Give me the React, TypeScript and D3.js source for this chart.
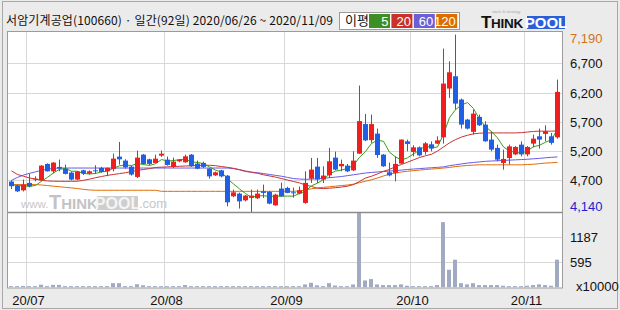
import React from 'react';
import * as d3 from 'd3';

const title = '서암기계공업(100660) · 일간(92일) 2020/06/26 ~ 2020/11/09';
const maLabel = '이평';
const maPeriods = ['5', '20', '60', '120'];

const opens = [4680,4610,4529,4656,4720,4700,4980,4854,4929,4900,4832,4713,4871,4815,4871,4912,4854,4895,5105,5037,4934,4758,5139,5059,4997,5122,5054,4929,5025,5008,5139,4986,4997,4900,4785,4871,4780,4427,4473,4358,4400,4393,4513,4502,4273,4559,4570,4495,4473,4314,4729,4934,4713,4786,5088,4940,4951,4871,5156,5661,5387,5498,5139,4837,4827,4986,5366,5185,5264,5185,5315,5327,5435,6268,6478,6080,5738,5528,5784,5652,5396,5254,4997,5080,5143,5310,5143,5327,5452,5493,5452,5435];
const highs = [4700,4630,4713,4815,4768,4960,4990,5010,5054,4968,4850,4860,4880,4870,4957,4930,4920,5156,5356,5060,4950,5208,5150,5070,5139,5208,5105,5088,5060,5139,5150,5037,5020,4910,4850,4880,4790,4542,4490,4450,4542,4542,4627,4520,4470,4661,4590,4576,4593,4854,5083,5083,4939,5254,5190,5054,4980,5196,6319,5835,5823,5584,5150,5003,5110,5400,5396,5299,5280,5356,5366,5452,6951,6734,7190,6097,5750,5909,5823,5709,5538,5310,5225,5310,5285,5366,5285,5481,5584,5640,5510,6421];
const lows = [4550,4500,4510,4580,4683,4690,4850,4820,4854,4800,4700,4700,4790,4800,4810,4830,4770,4854,4968,4900,4780,4740,4970,4960,4990,5100,4950,4910,5010,5000,4930,4890,4910,4729,4775,4750,4256,4410,4217,4340,4140,4380,4400,4290,4265,4420,4480,4405,4460,4300,4655,4655,4655,4741,4870,4854,4840,4860,5150,5370,5340,5083,4930,4768,4683,4980,5196,5110,5110,5139,5196,5320,5327,6109,5909,5584,5570,5481,5630,5360,5196,5025,4883,4968,5130,5110,5110,5264,5242,5367,5310,5412];
const closes = [4600,4512,4627,4598,4730,4951,4854,5003,4900,4810,4713,4849,4815,4854,4855,4844,4912,5071,5059,4922,4798,5088,4980,4980,5071,5156,4963,5020,5054,5110,4940,4900,4929,4768,4837,4768,4324,4495,4341,4439,4439,4473,4485,4302,4456,4427,4485,4478,4530,4656,4883,4713,4781,5025,4883,4980,4854,5037,5712,5383,5661,5133,4940,4785,4980,5396,5322,5264,5127,5332,5242,5383,6353,6546,6011,5652,5584,5840,5641,5367,5225,5054,5066,5280,5270,5143,5270,5412,5396,5538,5340,6211];
const volumes = [30,30,35,30,30,65,30,60,60,30,30,30,30,30,30,30,30,100,100,30,30,75,50,30,30,30,30,30,30,55,30,30,30,30,30,30,30,30,30,30,30,30,30,30,30,30,30,30,30,70,110,50,30,100,45,30,30,70,1781,165,197,70,55,55,55,72,40,30,30,30,30,55,1548,420,657,100,72,100,55,55,55,55,40,30,30,30,40,55,72,55,40,657];
const priorCloses = [4650, 4620, 4660, 4640];
const ma20 = [4860,4800,4770,4740,4720,4700,4690,4685,4683,4683,4683,4685,4700,4720,4745,4765,4785,4800,4815,4830,4850,4870,4885,4900,4920,4925,4930,4935,4940,4945,4950,4955,4957,4957,4950,4935,4922,4905,4883,4860,4837,4820,4795,4775,4755,4730,4705,4680,4656,4620,4595,4565,4560,4565,4575,4585,4600,4627,4680,4740,4770,4810,4855,4885,4935,4970,5010,5050,5090,5120,5145,5200,5270,5340,5396,5440,5470,5495,5505,5510,5510,5510,5510,5510,5510,5515,5525,5535,5540,5540,5540,5545];
const ma60 = [4700,4750,4790,4820,4845,4870,4890,4905,4910,4910,4910,4910,4910,4910,4910,4910,4910,4910,4910,4910,4910,4910,4910,4910,4910,4910,4910,4910,4910,4910,4910,4910,4910,4910,4910,4910,4910,4900,4880,4850,4840,4830,4815,4800,4785,4770,4750,4730,4722,4718,4720,4728,4735,4745,4755,4765,4780,4795,4810,4825,4835,4843,4850,4858,4866,4875,4885,4893,4900,4908,4915,4922,4930,4950,4965,4980,4995,5005,5015,5025,5030,5035,5040,5045,5050,5055,5060,5068,5075,5085,5093,5100];
const ma120 = [4627,4627,4627,4627,4627,4620,4610,4600,4590,4580,4570,4560,4545,4535,4530,4530,4530,4530,4530,4530,4530,4530,4530,4530,4530,4512,4512,4512,4512,4512,4512,4512,4512,4512,4512,4512,4512,4512,4512,4512,4512,4512,4512,4512,4512,4512,4512,4512,4520,4535,4555,4570,4580,4590,4600,4610,4620,4635,4660,4685,4710,4740,4775,4805,4825,4843,4855,4865,4875,4885,4893,4900,4910,4920,4935,4945,4955,4960,4965,4965,4965,4965,4965,4965,4965,4965,4970,4975,4985,4995,5000,5008];

const priceTicks = [6700, 6200, 5700, 5200, 4700];
const volTicks = [595, 1187];
const monthLabels = ['20/07', '20/08', '20/09', '20/10', '20/11'];
const monthStartIdx = [3, 26, 46, 67, 86];

export default function App() {
  const W = 620, H = 310;
  const L = 7.5, R = 562.5, T = 31.5, SEP = 212.5, B = 288;
  const n = closes.length;
  const x = d3.scaleLinear().domain([0, n - 1]).range([11.5, 11.5 + 6 * (n - 1)]);
  const y = d3.scaleLinear().domain([4140, 7190]).range([213.1, 34.6]);
  const yv = d3.scaleLinear().domain([0, d3.max(volumes) as number]).range([287.4, 212.3]);

  const allCloses = [...priorCloses, ...closes];
  const ma5 = closes.map((_, i) => d3.mean(allCloses.slice(i, i + 5)) as number);

  const line = d3.line<number>().x((_, i) => x(i)).y((v) => y(v));
  const maSeries = [
    { data: ma120, color: '#de6c0c' },
    { data: ma60, color: '#6a5ae0' },
    { data: ma20, color: '#c83232' },
    { data: ma5, color: '#3c9a1e' },
  ];
  const legendColors = ['#3d8f25', '#c8322a', '#6b5fd6', '#dd6d00'];
  const up = '#f01e1e', down = '#1f5fe6';
  const grid = '#d8d8d8';
  const maxP = d3.max(highs) as number;
  const minP = d3.min(lows) as number;
  const fmt = d3.format(',');
  const axisFont = 'Liberation Sans, Arial, sans-serif';

  return (
    <svg width={W} height={H} style={{ position: 'absolute', left: 0, top: 0 }} xmlns="http://www.w3.org/2000/svg">
      <defs>
        <clipPath id="pclip"><rect x={L + 0.5} y={T} width={R - L - 1} height={SEP - T} /></clipPath>
        <clipPath id="vclip"><rect x={L + 0.5} y={SEP + 0.5} width={R - L - 1} height={B - SEP - 1} /></clipPath>
      </defs>
      <rect x={0} y={0} width={W} height={H} fill="#ebebeb" />
      <rect x={2.5} y={1.5} width={615} height={307} fill="none" stroke="#a8a8a8" />
      {/* title */}
      <text x={6} y={25} fontFamily="'Noto Sans CJK KR', sans-serif" fontSize={12} textLength={327} lengthAdjust="spacing" fill="#111">{title}</text>
      {/* legend */}
      <rect x={339.5} y={12.5} width={120} height={17} fill="#fff" stroke="#9a9a9a" />
      <text x={345} y={25} fontFamily="'Noto Sans CJK KR', sans-serif" fontSize={13} fill="#111">{maLabel}</text>
      {maPeriods.map((p, k) => (
        <g key={p}>
          <rect x={369 + k * 22.4} y={14} width={21} height={14} fill={legendColors[k]} />
          <text x={369 + k * 22.4 + 19.5} y={25.5} textAnchor="end" fontFamily={axisFont} fontSize={13} fill="#fff">{p}</text>
        </g>
      ))}
      {/* logo */}
      <text x={492} y={13} fontFamily={axisFont} fontSize={4} fill="#aaa">stock &amp; strategy</text>
      <text x={481} y={28} fontFamily={axisFont} fontWeight="bold" fill="#111" letterSpacing={-0.3}>
        <tspan fontSize={17}>T</tspan><tspan fontSize={13.5}>HINK</tspan>
      </text>
      <rect x={527} y={16} width={38} height={13} fill="#2b5fd9" />
      <text x={546} y={28} textAnchor="middle" fontFamily={axisFont} fontWeight="bold" fontSize={15} fill="#fff">POOL</text>

      {/* plot area */}
      <rect x={L} y={T} width={R - L} height={B - T} fill="#fff" />
      {priceTicks.map((t) => (
        <line key={t} x1={L} x2={R} y1={Math.round(y(t)) + 0.5} y2={Math.round(y(t)) + 0.5} stroke={grid} />
      ))}
      {volTicks.map((t) => (
        <line key={t} x1={L} x2={R} y1={Math.round(yv(t)) + 0.5} y2={Math.round(yv(t)) + 0.5} stroke={grid} />
      ))}
      {monthStartIdx.map((i) => (
        <line key={i} x1={x(i) - 3} x2={x(i) - 3} y1={T} y2={B} stroke={grid} />
      ))}

      {/* watermark */}
      <g opacity={0.9}>
        <text x={21} y={208} fontFamily={axisFont} fontSize={11.5} fill="#c2c2c2">www.</text>
        <text x={49} y={209} fontFamily={axisFont} fontWeight="bold" fill="#bdbdbd">
          <tspan fontSize={20}>T</tspan><tspan fontSize={15}>HINK</tspan>
        </text>
        <rect x={97} y={196} width={41} height={14} fill="#c9c9c9" />
        <text x={117.5} y={209} textAnchor="middle" fontFamily={axisFont} fontWeight="bold" fontSize={16} fill="#f4f4f4">POOL</text>
        <text x={139} y={208} fontFamily={axisFont} fontSize={13} fill="#c2c2c2">.com</text>
      </g>

      {/* candles */}
      <g clipPath="url(#pclip)">
        {maSeries.map((s, k) => (
          <path key={k} d={line(s.data) as string} fill="none" stroke={s.color} strokeWidth={1} />
        ))}
        {closes.map((c, i) => {
          const o = opens[i];
          const col = c >= o ? up : down;
          const top = y(Math.max(o, c));
          const h = Math.max(1, Math.abs(y(o) - y(c)));
          return (
            <g key={i}>
              <line x1={x(i)} x2={x(i)} y1={y(highs[i])} y2={y(lows[i])} stroke={col} />
              <rect x={x(i) - 2.5} y={top} width={5} height={h} fill={col} />
            </g>
          );
        })}
      </g>

      {/* volume */}
      <g clipPath="url(#vclip)">
        {volumes.map((v, i) => (
          <rect key={i} x={x(i) - 2.5} y={yv(v)} width={4} height={yv(0) - yv(v)} fill="#a2aac2" />
        ))}
      </g>

      {/* borders */}
      <rect x={L} y={T} width={R - L} height={B - T} fill="none" stroke="#9c9c9c" />
      <line x1={L} x2={R} y1={SEP} y2={SEP} stroke="#8c8c8c" strokeWidth={1.4} />

      {/* right labels */}
      <text x={570} y={43} fontFamily={axisFont} fontSize={13} fill="#d07418">{fmt(maxP)}</text>
      {priceTicks.map((t) => (
        <text key={t} x={570} y={y(t) + 5} fontFamily={axisFont} fontSize={13} fill="#111">{fmt(t)}</text>
      ))}
      <text x={570} y={211} fontFamily={axisFont} fontSize={13} fill="#1a24d0">{fmt(minP)}</text>
      {volTicks.map((t) => (
        <text key={t} x={570} y={yv(t) + 5} fontFamily={axisFont} fontSize={13} fill="#111">{t}</text>
      ))}
      <text x={576} y={291} fontFamily={axisFont} fontSize={13} fill="#111">x10000</text>

      {/* x labels */}
      {monthStartIdx.map((i, k) => (
        <text key={i} x={x(i) - 1} y={305} textAnchor="middle" fontFamily={axisFont} fontSize={13} fill="#111">{monthLabels[k]}</text>
      ))}
    </svg>
  );
}
